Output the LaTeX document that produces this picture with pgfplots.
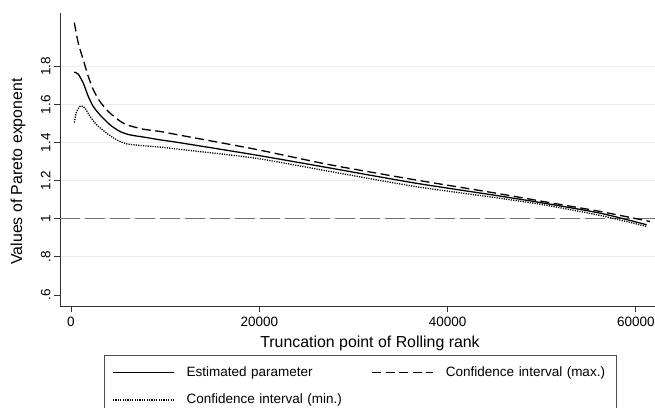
\documentclass[border=0pt]{standalone}
\usepackage{pgfplots}
\pgfplotsset{compat=1.18}
\usepackage{fontspec}
\setmainfont{Liberation Sans}

\definecolor{gridc}{RGB}{230,240,242}
\definecolor{refc}{RGB}{110,110,110}
\definecolor{axisc}{RGB}{50,50,50}

\begin{document}
\begin{tikzpicture}
\begin{axis}[
  scale only axis,
  width=595pt, height=293.3pt,
  xmin=-1168, xmax=62030,
  ymin=0.542, ymax=2.083,
  axis x line*=bottom, axis y line*=left,
  axis line style={line width=0.9pt, color=axisc},
  every tick/.style={line width=0.9pt, color=axisc},
  tick align=outside, major tick length=6pt,
  scaled x ticks=false,
  xtick={0,20000,40000,60000},
  xticklabels={0,20000,40000,60000},
  ytick={0.8,1,1.2,1.4,1.6,1.8},
  yticklabels={.8,1,1.2,1.4,1.6,1.8},
  extra y ticks={0.6},
  extra y tick labels={.6},
  extra y tick style={grid=none},
  ymajorgrids,
  grid style={line width=1pt, color=gridc},
  tick label style={font=\fontsize{13.5}{16}\selectfont},
  yticklabel style={rotate=90, anchor=south},
  xticklabel style={yshift=-1.5pt},
  /pgf/number format/assume math mode=true,
  label style={font=\fontsize{15.9}{19}\selectfont},
  xlabel={Truncation point of Rolling rank},
  xlabel style={at={(axis description cs:0.521,-0.126)}, anchor=center},
  ylabel={Values of Pareto exponent},
  ylabel style={at={(axis description cs:-0.0706,0.4586)}, anchor=center},
  legend columns=2,
  legend cell align=left,
  legend image code/.code={\draw[#1] (0pt,0pt) -- (61pt,0pt);},
  legend style={
    at={(axis description cs:0.0739,-0.167)}, anchor=north west,
    draw=black!70, line width=0.8pt, fill=white,
    inner xsep=8pt, inner ysep=9pt, row sep=12pt,
    font=\fontsize{13.5}{16}\selectfont,
    nodes={inner sep=2pt, text width=160pt, text depth=0.2em},
    /tikz/every odd column/.append style={column sep=10pt},
    /tikz/every even column/.append style={column sep=23pt}
  },
]
% reference line at an exponent of one
\addplot[forget plot, color=refc, line width=1.1pt, dash pattern=on 20pt off 5pt]
  coordinates {(-1168,1) (62030,1)};

% estimated Pareto exponent
\addplot[black, line width=1.3pt, smooth, tension=0.4] coordinates {
  (350,1.771) (775,1.760) (1306,1.713) (1837,1.643) (2368,1.590)
  (3080,1.546) (4142,1.494) (5200,1.459) (6266,1.441) (8040,1.427)
  (9452,1.415) (11400,1.401) (19540,1.336) (27506,1.267) (36533,1.188)
  (45000,1.124) (50160,1.083) (56180,1.030) (61140,0.969)
};
\addlegendentry{Estimated parameter}

% upper bound of the confidence interval
\addplot[black, line width=1.3pt, dash pattern=on 9pt off 4.5pt, smooth, tension=0.4] coordinates {
  (350,2.031) (775,1.923) (1306,1.835) (1837,1.748) (2368,1.678)
  (3080,1.616) (3961,1.564) (5023,1.520) (5915,1.494) (7678,1.471)
  (9452,1.459) (11400,1.441) (19540,1.366) (27506,1.284) (36533,1.205)
  (45000,1.136) (50160,1.091) (56180,1.039) (61490,0.986)
};
\addlegendentry{Confidence interval (max.)}

% lower bound of the confidence interval
\addplot[black, line width=1.3pt, dash pattern=on 1.2pt off 1.2pt, smooth, tension=0.4] coordinates {
  (350,1.506) (600,1.564) (1030,1.594) (1487,1.582) (2018,1.538)
  (2730,1.494) (3790,1.450) (4853,1.415) (5915,1.394) (7678,1.384)
  (9452,1.377) (11400,1.366) (19540,1.319) (27506,1.249) (36533,1.170)
  (45000,1.112) (50160,1.074) (56180,1.018) (61140,0.960)
};
\addlegendentry{Confidence interval (min.)}
\end{axis}
\pgfresetboundingbox
\path[use as bounding box]
  ([shift={(-60pt,-101pt)}]current axis.south west)
  rectangle ([shift={(595pt,306pt)}]current axis.south west);
\end{tikzpicture}
\end{document}
